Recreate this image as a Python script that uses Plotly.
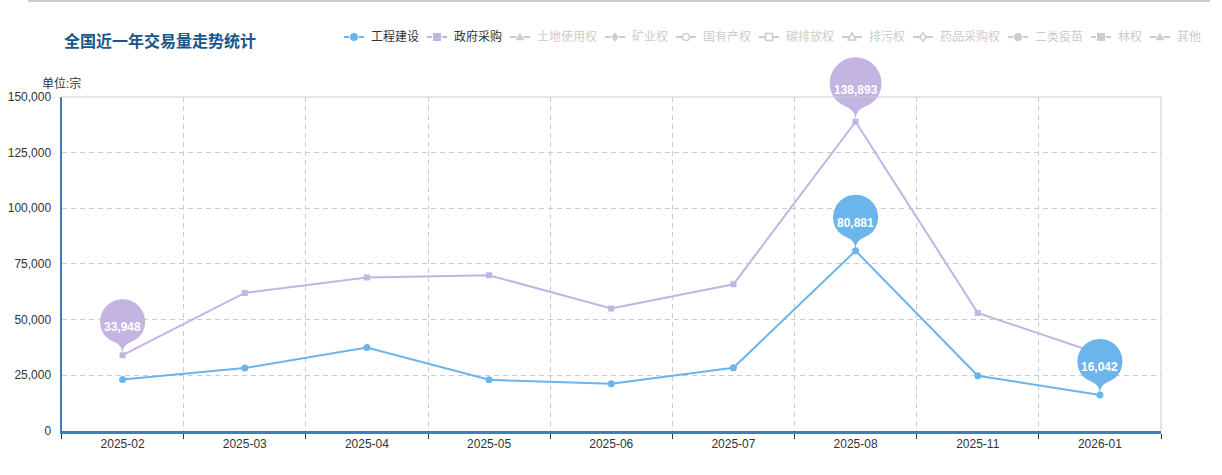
import numpy as np
import plotly.graph_objects as go

# data
months = ['2025-02', '2025-03', '2025-04', '2025-05', '2025-06',
          '2025-07', '2025-08', '2025-11', '2026-01']
gcjs = [23070, 28140, 37430, 22900, 21100, 28280, 80881, 24690, 16042]      # 工程建设
zfcg = [33948, 61940, 68850, 69880, 54930, 65840, 138893, 52960, 34470]     # 政府采购
y_ticks = [0, 25000, 50000, 75000, 100000, 125000, 150000]

legend_names = ['工程建设', '政府采购', '土地使用权', '矿业权', '国有产权', '碳排放权',
                '排污权', '药品采购权', '二类疫苗', '林权', '其他']
legend_symbols = ['circle', 'square', 'triangle', 'diamond', 'circle-open', 'square-open',
                  'triangle-open', 'diamond-open', 'circle', 'square', 'triangle']

W, H = 1222, 475
BLUE = '#6cb4ec'
PURPLE = '#c4b4e2'
GRAY = '#cccccc'
AXIS = '#3c7fbf'
FONT = 'Liberation Sans, Noto Sans CJK SC, sans-serif'

PLOT_L, PLOT_R, PLOT_T, PLOT_B = 61.5, 1161, 97, 430.7


def px(x):
    return x / W


def py(y):
    return 1 - y / H


def pin_path(r, top):
    # echarts-like pin, tip at (0,0), pixel offsets with y up
    u = ((top - r) + np.sqrt((top - r) ** 2 + 4 * r * r)) / 2
    dy = r * r / u
    c = u - dy
    a = np.arcsin(dy / r)
    dx = np.cos(a) * r
    th = np.linspace(np.pi + a, -a, 41)
    p = ['M %.2f,%.2f' % (r * np.cos(th[0]), c + r * np.sin(th[0]))]
    p += ['L %.2f,%.2f' % (r * np.cos(t), c + r * np.sin(t)) for t in th[1:]]
    k1, k2 = 0.6 * r, 0.7 * r
    ey = c - dy
    p.append('C %.2f,%.2f 0,%.2f 0,0' % (dx - np.sin(a) * k1, ey - np.cos(a) * k1, k2))
    p.append('C 0,%.2f %.2f,%.2f %.2f,%.2f' % (k2, -dx + np.sin(a) * k1, ey - np.cos(a) * k1, -dx, ey))
    p.append('Z')
    return ' '.join(p)


def poly(pts):
    return 'M ' + ' L '.join('%.2f,%.2f' % q for q in pts) + ' Z'


def symbol_path(sym, s=4):
    base = sym.replace('-open', '')
    if base == 'circle':
        t = np.linspace(0, 2 * np.pi, 25)[:-1]
        return poly(list(zip(s * np.cos(t), s * np.sin(t))))
    if base == 'square':
        return poly([(-s, -s), (s, -s), (s, s), (-s, s)])
    if base == 'triangle':
        return poly([(0, s * 1.15), (s * 1.1, -s * 0.85), (-s * 1.1, -s * 0.85)])
    return poly([(0, s * 1.2), (s * 0.9, 0), (0, -s * 1.2), (-s * 0.9, 0)])


fig = go.Figure()

fig.add_trace(go.Scatter(x=months, y=gcjs, name='工程建设', mode='lines+markers',
                         line=dict(color=BLUE, width=2),
                         marker=dict(symbol='circle', size=7, color=BLUE)))
fig.add_trace(go.Scatter(x=months, y=zfcg, name='政府采购', mode='lines+markers',
                         line=dict(color=PURPLE, width=2),
                         marker=dict(symbol='square', size=6, color=PURPLE)))
# empty trace so the taller pin subplot (x2/y2) exists
fig.add_trace(go.Scatter(x=[], y=[], xaxis='x2', yaxis='y2', showlegend=False, hoverinfo='skip'))

shapes = []
annotations = []

# max / min pins, on a twin subplot with the same scale but taller, so they are not clipped
top_val = max(max(gcjs), max(zfcg))
for vals, color in [(gcjs, BLUE), (zfcg, PURPLE)]:
    for i in [int(np.argmax(vals)), int(np.argmin(vals))]:
        k = 1.15 if vals[i] == top_val else 1.0
        r, top = 22.5 * k, 56 * k
        shapes.append(dict(type='path', xref='x2', yref='y2', xsizemode='pixel', ysizemode='pixel',
                           xanchor=months[i], yanchor=vals[i], path=pin_path(r, top),
                           fillcolor=color, line=dict(width=0), layer='above'))
        annotations.append(dict(x=months[i], y=vals[i], xref='x', yref='y', yshift=top / 2,
                                text=f'<b>{vals[i]:,}</b>', showarrow=False,
                                font=dict(size=12, color='white', family=FONT)))

# plot frame: top and right borders
shapes.append(dict(type='line', xref='x domain', yref='y domain', x0=0, x1=1, y0=1, y1=1,
                   line=dict(color=GRAY, width=1), layer='above'))
shapes.append(dict(type='line', xref='x domain', yref='y domain', x0=1, x1=1, y0=0, y1=1,
                   line=dict(color=GRAY, width=1), layer='above'))
# separator at the very top
shapes.append(dict(type='line', xref='paper', yref='paper', x0=px(28), x1=px(1210),
                   y0=py(1), y1=py(1), line=dict(color=GRAY, width=2)))

# legend, drawn by hand to match the compact echarts spacing
lx, ly = 344, 37
for n, (name, sym) in enumerate(zip(legend_names, legend_symbols)):
    col = [BLUE, PURPLE][n] if n < 2 else GRAY
    shapes.append(dict(type='line', xref='paper', yref='paper', x0=px(lx), x1=px(lx + 20),
                       y0=py(ly), y1=py(ly), line=dict(color=col, width=2)))
    opened = sym.endswith('-open')
    shapes.append(dict(type='path', xref='paper', yref='paper', xsizemode='pixel', ysizemode='pixel',
                       xanchor=px(lx + 10), yanchor=py(ly), path=symbol_path(sym, 3.5 if opened else 4.5),
                       fillcolor='white' if opened else col,
                       line=dict(color=col if opened else 'white', width=1.5 if opened else 1)))
    annotations.append(dict(x=px(lx + 25), y=py(ly), xref='paper', yref='paper',
                            xanchor='left', yanchor='middle', text=name, showarrow=False,
                            font=dict(size=12, color='#333' if n < 2 else GRAY, family=FONT)))
    lx += 20 + 5 + 12 * len(name) + 10

annotations.append(dict(x=px(61.5), y=py(41), xref='paper', yref='paper', xanchor='left',
                        yanchor='middle', text='<b>全国近一年交易量走势统计</b>', showarrow=False,
                        font=dict(size=16, color='#17578b', family=FONT)))
annotations.append(dict(x=px(40), y=py(83), xref='paper', yref='paper', xanchor='left',
                        yanchor='middle', text='单位:宗', showarrow=False,
                        font=dict(size=12, color='#333', family=FONT)))

y_dom = [py(PLOT_B), py(PLOT_T)]
y2_dom = [py(PLOT_B), 1]
y2_top = y_ticks[-1] * (y2_dom[1] - y2_dom[0]) / (y_dom[1] - y_dom[0])

fig.update_layout(
    width=W, height=H,
    margin=dict(l=0, r=0, t=0, b=0),
    paper_bgcolor='white', plot_bgcolor='rgba(0,0,0,0)',
    showlegend=False,
    font=dict(family=FONT, size=12, color='#333'),
    shapes=shapes, annotations=annotations,
    xaxis=dict(type='category', categoryorder='array', categoryarray=months,
               range=[-0.5, len(months) - 0.5], domain=[px(PLOT_L), px(PLOT_R)],
               tickson='boundaries', ticks='outside', ticklen=5, tickcolor='#333', tickwidth=1,
               showline=True, linecolor=AXIS, linewidth=3,
               showgrid=True, gridcolor=GRAY, griddash='5px,4px', gridwidth=1,
               zeroline=False, automargin=False, fixedrange=True,
               tickfont=dict(size=12, color='#333')),
    yaxis=dict(range=[0, y_ticks[-1]], tickvals=y_ticks, tickformat=',',
               domain=y_dom,
               showline=True, linecolor=AXIS, linewidth=2, ticks='',
               showgrid=True, gridcolor=GRAY, griddash='5px,4px', gridwidth=1,
               zeroline=False, automargin=False, fixedrange=True, ticklabelstandoff=6,
               tickfont=dict(size=12, color='#333')),
    xaxis2=dict(type='category', categoryorder='array', categoryarray=months,
                range=[-0.5, len(months) - 0.5], domain=[px(PLOT_L), px(PLOT_R)],
                anchor='y2', visible=False, fixedrange=True),
    yaxis2=dict(range=[0, y2_top], domain=y2_dom, anchor='x2', visible=False, fixedrange=True),
)

fig.write_html('out.html', config={'displayModeBar': False},
               post_script="document.body.style.margin='0';document.body.style.overflow='hidden';")
